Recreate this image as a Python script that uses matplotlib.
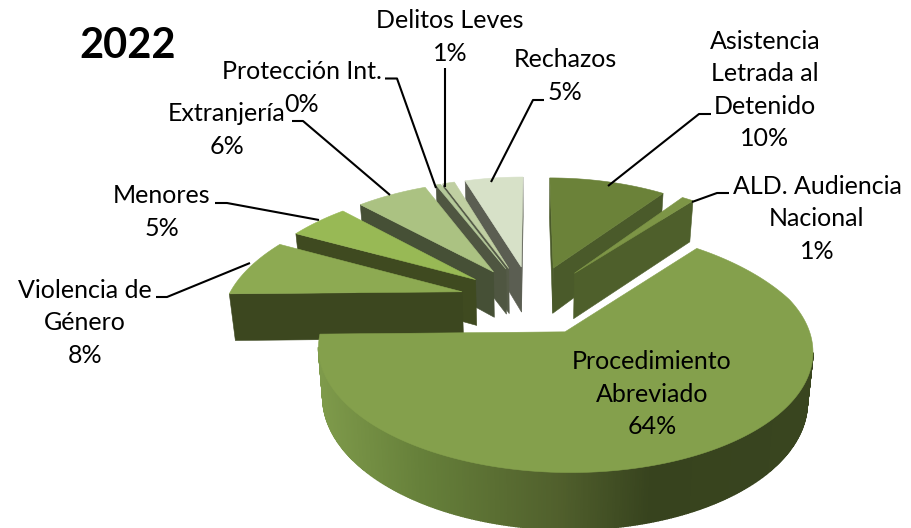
import numpy as np
import matplotlib
matplotlib.use("Agg")
import matplotlib.pyplot as plt
from matplotlib.colors import to_rgb
from matplotlib.patches import Polygon

plt.rcParams['font.family'] = ['Lato', 'DejaVu Sans']

# datos (en el orden del grafico, sentido horario desde las 12)
categorias = ['Asistencia\nLetrada al\nDetenido', 'ALD. Audiencia\nNacional',
              'Procedimiento\nAbreviado', 'Violencia de\nGénero', 'Menores',
              'Extranjería', 'Protección Int.', 'Delitos Leves', 'Rechazos']
valores = [10, 1, 64, 8, 5, 6, 0.4, 1, 5]

colores_top = ['#6b8239', '#7d9546', '#84a04c', '#8daa52', '#98b955',
               '#abc282', '#b5c99a', '#c0cfa2', '#d7e1c8']
colores_lado = ['#4a5a2a', '#4e5f2b', '#3c471f', '#3c471f', '#3f4a20',
                '#465036', '#4f5641', '#555b48', '#5b5e52']

# centro de cada etiqueta en pixeles
pos_etiquetas = [(765, 90), (817, 219), (652, 394), (85, 323), (162, 212),
                 (227, 130), (302, 88), (450, 37), (565, 76)]
guias = [[(711, 114), (699, 114), (608, 186)],
         [(729, 193), (717, 193), (692, 202)],
         None,
         [(156, 297), (167, 297), (250, 263)],
         [(215, 203), (227, 203), (319, 220)],
         [(292, 121), (303, 121), (390, 195)],
         [(385, 78.5), (397, 78.5), (436, 188)],
         [(445, 68), (445, 187)],
         [(544, 100), (533, 100), (491, 182)]]
ALTO_LINEA = 32.5

# camara del pastel 3D
X0, Y0 = 532, 299.6
R, S = 235, 111
P = 0.14
PX_FONDO, PX_FRENTE = 0.2, 0.14
EXPLODE = 0.31
ALTO = 47
ESCALA_BASE = 0.98

# degradado del borde del sector grande, segun x en pantalla
grad_x = [316, 420, 560, 650, 812]
grad_c = [to_rgb(c) for c in ['#7f9b4b', '#66803a', '#505f2c', '#37431e', '#39451f']]


def proyecta(u, v):
    wx = 1 + np.where(v > 0, PX_FONDO, PX_FRENTE) * v
    return np.column_stack([X0 + R * u / wx, Y0 - S * v / (1 + P * v)])


def sector(a0, a1):
    mid = np.radians((a0 + a1) / 2)
    cu, cv = EXPLODE * np.sin(mid), EXPLODE * np.cos(mid)
    t = np.radians(np.linspace(a0, a1, max(int((a1 - a0) * 2), 6)))
    apex = proyecta(np.array([cu]), np.array([cv]))[0]
    arco = proyecta(cu + np.sin(t), cv + np.cos(t))
    medio = proyecta(np.array([cu + 0.6 * np.sin(mid)]), np.array([cv + 0.6 * np.cos(mid)]))[0]
    return apex, arco, medio


def caida(pts):
    # plano inferior: el alto crece hacia el frente por la perspectiva
    q = (Y0 - pts[:, 1]) / S
    v = q / (1 - P * q)
    out = pts.copy()
    out[:, 0] = X0 + (pts[:, 0] - X0) * ESCALA_BASE
    out[:, 1] = pts[:, 1] + ALTO / (1 + P * v)
    return out


def visible(a, b, dentro):
    d = b - a
    lado_dentro = d[0] * (dentro[1] - a[1]) - d[1] * (dentro[0] - a[0])
    return lado_dentro * d[0] < 0


fig = plt.figure(figsize=(9.12, 5.28), dpi=100)
ax = fig.add_axes([0, 0, 1, 1])
ax.set_xlim(0, 912)
ax.set_ylim(528, 0)
ax.axis('off')

limites = np.cumsum([0] + valores) / sum(valores) * 360
# de atras hacia delante: primero la izquierda, luego derecha y sector grande
orden = [8, 7, 6, 5, 4, 3, 0, 1, 2]

for n, i in enumerate(orden):
    apex, arco, medio = sector(limites[i], limites[i + 1])

    for borde in (arco[-1], arco[0]):
        if visible(apex, borde, medio):
            cara = np.array([apex, borde])
            ax.add_patch(Polygon(np.vstack([cara, caida(cara)[::-1]]), fc=colores_lado[i],
                                 ec=colores_lado[i], lw=0.4, zorder=2 + n))

    bajo = caida(arco)
    for k in range(len(arco) - 1):
        if visible(arco[k], arco[k + 1], apex):
            xm = (arco[k, 0] + arco[k + 1, 0]) / 2
            col = colores_lado[i]
            if i == 2:
                col = [np.interp(xm, grad_x, [c[j] for c in grad_c]) for j in range(3)]
            quad = [arco[k], arco[k + 1], bajo[k + 1], bajo[k]]
            ax.add_patch(Polygon(quad, fc=col, ec=col, lw=1.0, zorder=2 + n))

    ax.add_patch(Polygon(np.vstack([apex, arco]), fc=colores_top[i], ec=colores_top[i],
                         lw=0.4, zorder=2.5 + n))

for i, nombre in enumerate(categorias):
    x, y = pos_etiquetas[i]
    lineas = nombre.split('\n') + [f'{valores[i]:.0f}%']
    for j, linea in enumerate(lineas):
        ax.text(x, y + (j - (len(lineas) - 1) / 2) * ALTO_LINEA, linea, ha='center', va='center',
                fontsize=18, color='black', zorder=30)
    if guias[i] is not None:
        gx, gy = zip(*guias[i])
        ax.plot(gx, gy, color='black', lw=1.5, zorder=31, solid_capstyle='butt')

ax.text(128, 46, '2022', ha='center', va='center', fontsize=30, fontweight='bold', zorder=30)

plt.savefig('out.png', dpi=100)
